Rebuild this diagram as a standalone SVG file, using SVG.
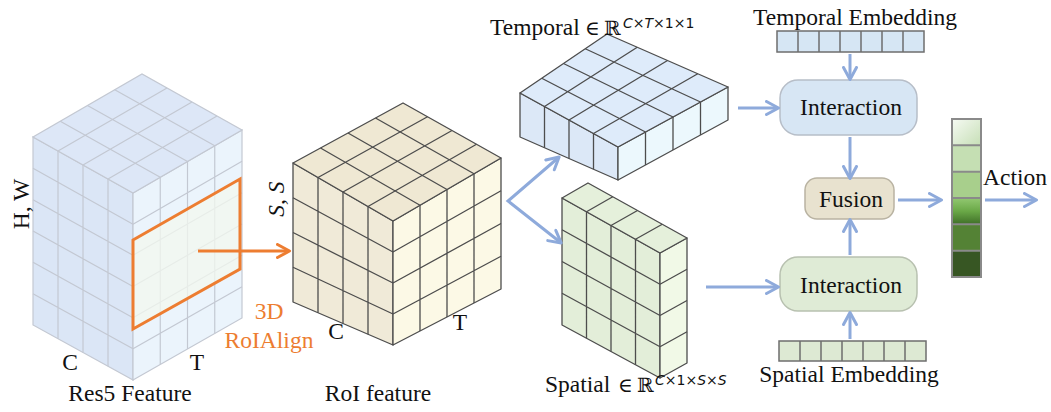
<svg xmlns="http://www.w3.org/2000/svg" width="1051" height="412" viewBox="0 0 1051 412">
  <style>
    .t { font-family: 'Liberation Serif', 'Times New Roman', serif; font-size: 23.5px; fill: #111; }
    .sym { font-family: 'DejaVu Serif', 'Liberation Serif', serif; font-size: 20px; }
    .sup { font-family: 'DejaVu Sans', sans-serif; font-size: 14px; }
    .it { font-style: italic; }
    .org { fill: #ed7d31; }
    .lg { fill: none; stroke: #c3c8d2; stroke-width: 1.2; }
    .dg { fill: none; stroke: #4d4d4d; stroke-width: 1.3; stroke-linejoin: round; }
    .face-l { stroke: #c3c8d2; stroke-width: 1.2; }
    .face-d { stroke: #4d4d4d; stroke-width: 1.3; stroke-linejoin: round; }
    .box { stroke-width: 1.5; }
    .emb { stroke: #6e6e6e; stroke-width: 1.5; }
    .blue { fill: none; stroke: #8eaadb; stroke-width: 3; marker-end: url(#ab); }
  </style>
  <defs>
    <marker id="ab" viewBox="0 0 16 16" refX="12.5" refY="8" markerWidth="16" markerHeight="16" markerUnits="userSpaceOnUse" orient="auto-start-reverse">
      <path d="M2,1.5 L14,8 L2,14.5" fill="none" stroke="#8eaadb" stroke-width="3" stroke-linecap="round" stroke-linejoin="round"/>
    </marker>
    <marker id="ao" viewBox="0 0 16 16" refX="12.5" refY="8" markerWidth="16" markerHeight="16" markerUnits="userSpaceOnUse" orient="auto">
      <path d="M2,1.5 L14,8 L2,14.5" fill="none" stroke="#ed7d31" stroke-width="3" stroke-linecap="round" stroke-linejoin="round"/>
    </marker>
    <linearGradient id="g1" x1="0" y1="0" x2="1" y2="1">
      <stop offset="0" stop-color="#f6faf3"/>
      <stop offset="1" stop-color="#c6dfb6"/>
    </linearGradient>
    <linearGradient id="g4" x1="0" y1="0" x2="0" y2="1">
      <stop offset="0" stop-color="#92c871"/>
      <stop offset="0.5" stop-color="#6aa847"/>
      <stop offset="1" stop-color="#3f6f28"/>
    </linearGradient>
  </defs>

  <!-- Res5 feature volume -->
  <g id="res5">
    <polygon class="face-l" points="33,137 133,193 133,380 33,325" fill="#dbe6f6"/>
    <polygon class="face-l" points="133,193 242,130 242,318 133,380" fill="#ebf4fc"/>
    <polygon class="face-l" points="133,193 33,137 142,74 242,130" fill="#dde7f7"/>
    <path class="lg" d="M58,151V338.75 M83,165V352.5 M108,179V366.25
      M33,168.3L133,224.2 M33,199.7L133,255.3 M33,231L133,286.5 M33,262.3L133,317.7 M33,293.7L133,348.8
      M160.25,177.25V364.5 M187.5,161.5V349 M214.75,145.75V333.5
      M133,224.2L242,161.3 M133,255.3L242,192.7 M133,286.5L242,224 M133,317.7L242,255.3 M133,348.8L242,286.7
      M108,179L217,116 M83,165L192,102 M58,151L167,88
      M160.25,177.25L60.25,121.25 M187.5,161.5L87.5,105.5 M214.75,145.75L114.75,89.75"/>
    <polygon points="133,240 240,179 240,269 133,329" fill="#f3f8ef" fill-opacity="0.75" stroke="#ed7d31" stroke-width="3" stroke-linejoin="miter"/>
    <text class="t" x="29" y="204" text-anchor="middle" font-size="21" transform="rotate(-90 29 204)">H, W</text>
    <text class="t" x="70" y="370" text-anchor="middle">C</text>
    <text class="t" x="197" y="370" text-anchor="middle">T</text>
    <text class="t" x="130" y="401" text-anchor="middle">Res5 Feature</text>
    <text class="t org" x="269" y="319" text-anchor="middle">3D</text>
    <text class="t org" x="269" y="348" text-anchor="middle">RoIAlign</text>
  </g>

  <!-- RoI feature cube -->
  <g id="roi">
    <polygon class="face-d" points="293,163 393,221 393,345 293,302" fill="#f0ead8"/>
    <polygon class="face-d" points="393,221 501,158 501,289 393,345" fill="#fcf9e6"/>
    <polygon class="face-d" points="393,221 293,163 403,103 501,158" fill="#efe8d3"/>
    <path class="dg" d="M318,177.5L318,312.75 M343,192L343,323.5 M368,206.5L368,334.25
      M293,197.75L393,252 M293,232.5L393,283 M293,267.25L393,314
      M420,205.25L420,331 M447,189.5L447,317 M474,173.75L474,303
      M393,252L501,190.75 M393,283L501,223.5 M393,314L501,256.25
      M368,206.5L476.5,144.25 M343,192L452,130.5 M318,177.5L427.5,116.75
      M420,205.25L320.5,148 M447,189.5L348,133 M474,173.75L375.5,118"/>
    <text class="t it" x="284" y="199" text-anchor="middle" transform="rotate(-90 284 199)">S, S</text>
    <text class="t" x="336" y="339" text-anchor="middle">C</text>
    <text class="t" x="460" y="330" text-anchor="middle">T</text>
    <text class="t" x="378" y="401" text-anchor="middle">RoI feature</text>
  </g>

  <!-- Temporal slab -->
  <g id="temporal">
    <polygon class="face-d" points="520,93 618,147 618,180 520,137" fill="#dce8f7"/>
    <polygon class="face-d" points="618,147 728,87 728,120 618,180" fill="#ecf8fd"/>
    <polygon class="face-d" points="618,147 520,93 607,34 728,87" fill="#deebfa"/>
    <path class="dg" d="M544.5,106.5L544.5,147.75 M569,120L569,158.5 M593.5,133.5L593.5,169.25
      M645.5,132L645.5,165 M673,117L673,150 M700.5,102L700.5,135
      M593.5,133.5L697.75,73.75 M569,120L667.5,60.5 M544.5,106.5L637.25,47.25
      M645.5,132L541.75,78.25 M673,117L563.5,63.5 M700.5,102L585.25,48.75"/>
    <text class="t" x="490" y="35" font-size="22">Temporal<tspan class="sym" x="585">∈</tspan><tspan class="sym" x="604">ℝ</tspan><tspan class="sup" x="623" y="28"><tspan class="it">C</tspan>×<tspan class="it">T</tspan>×1×1</tspan></text>
  </g>

  <!-- Spatial slab -->
  <g id="spatial">
    <polygon class="face-d" points="562,198 660,253 660,378 562,325" fill="#e3eed9"/>
    <polygon class="face-d" points="660,253 687,238 687,363 660,378" fill="#f1f9e7"/>
    <polygon class="face-d" points="660,253 562,198 588,183 687,238" fill="#e5f0db"/>
    <path class="dg" d="M586.5,211.75L586.5,338.25 M611,225.5L611,351.5 M635.5,239.25L635.5,364.75
      M562,229.75L660,284.25 M562,261.5L660,315.5 M562,293.25L660,346.75
      M660,284.25L687,269.25 M660,315.5L687,300.5 M660,346.75L687,331.75
      M635.5,239.25L662.25,224.25 M611,225.5L637.5,210.5 M586.5,211.75L612.75,196.75"/>
    <text class="t" x="545" y="392">Spatial<tspan class="sym" x="618">∈</tspan><tspan class="sym" x="637">ℝ</tspan><tspan class="sup" x="655" y="385"><tspan class="it">C</tspan>×1×<tspan class="it">S</tspan>×<tspan class="it">S</tspan></tspan></text>
  </g>

  <!-- Temporal embedding -->
  <g id="temporal-embedding">
    <text class="t" x="855" y="25" text-anchor="middle">Temporal Embedding</text>
    <rect class="emb" x="777" y="31" width="147" height="21" fill="#d6e6f4"/>
    <path class="emb" fill="none" d="M798,31V52 M819,31V52 M840,31V52 M861,31V52 M882,31V52 M903,31V52"/>
  </g>

  <!-- Temporal interaction -->
  <g id="temporal-interaction">
    <rect class="box" x="780" y="80" width="137" height="55" rx="18" fill="#d7e6f4" stroke="#b7bec8"/>
    <text class="t" x="851" y="115" text-anchor="middle">Interaction</text>
  </g>

  <!-- Fusion -->
  <g id="fusion">
    <rect class="box" x="805" y="178" width="89" height="41" rx="12" fill="#e8e2cf" stroke="#b9b3a2"/>
    <text class="t" x="851" y="207" text-anchor="middle">Fusion</text>
  </g>

  <!-- Spatial interaction -->
  <g id="spatial-interaction">
    <rect class="box" x="780" y="257" width="137" height="54" rx="18" fill="#dfebd6" stroke="#b8c1b0"/>
    <text class="t" x="851" y="293" text-anchor="middle">Interaction</text>
  </g>

  <!-- Spatial embedding -->
  <g id="spatial-embedding">
    <rect class="emb" x="779" y="341" width="147" height="20" fill="#dde9d3"/>
    <path class="emb" fill="none" d="M800,341V361 M821,341V361 M842,341V361 M863,341V361 M884,341V361 M905,341V361"/>
    <text class="t" x="849" y="382" text-anchor="middle">Spatial Embedding</text>
  </g>

  <!-- Action scores -->
  <g id="action">
    <rect x="952" y="119" width="29" height="26.33" fill="url(#g1)"/>
    <rect x="952" y="145.33" width="29" height="26.33" fill="#c5dfb3"/>
    <rect x="952" y="171.67" width="29" height="26.33" fill="#a8cf8c"/>
    <rect x="952" y="198" width="29" height="26.33" fill="url(#g4)"/>
    <rect x="952" y="224.33" width="29" height="26.33" fill="#548235"/>
    <rect x="952" y="250.67" width="29" height="26.33" fill="#375623"/>
    <path d="M952,145.33H981 M952,171.67H981 M952,198H981 M952,224.33H981 M952,250.67H981" stroke="#8a8a8a" stroke-width="2" fill="none"/>
    <rect x="952" y="119" width="29" height="158" fill="none" stroke="#8a8a8a" stroke-width="2"/>
    <text class="t" x="983" y="185">Action</text>
  </g>

  <!-- Connectors -->
  <g id="connectors">
    <path d="M198,251H288" fill="none" stroke="#ed7d31" stroke-width="3" marker-end="url(#ao)"/>
    <path class="blue" d="M558,158L508,201L560,242" marker-start="url(#ab)"/>
    <path class="blue" d="M738,108H777"/>
    <path class="blue" d="M706,287H777"/>
    <path class="blue" d="M850,54V78"/>
    <path class="blue" d="M850,137V177"/>
    <path class="blue" d="M850,255V221"/>
    <path class="blue" d="M850,339V314"/>
    <path class="blue" d="M898,200H940"/>
    <path class="blue" d="M985,200H1035"/>
  </g>
</svg>
